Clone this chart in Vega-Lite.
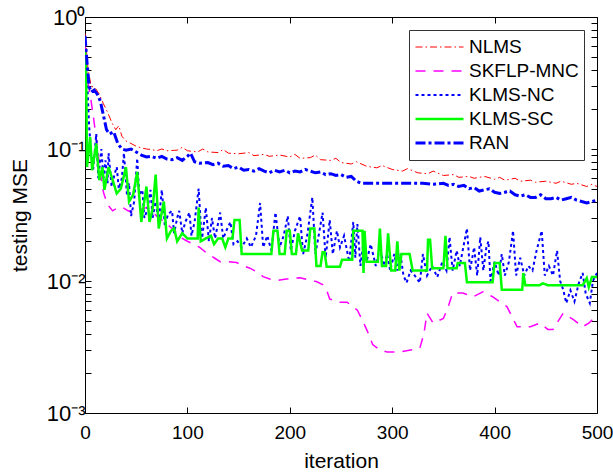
{
  "$schema": "https://vega.github.io/schema/vega-lite/v6.json",
  "width": 512,
  "height": 396,
  "autosize": {"type": "none"},
  "padding": {"left": 85, "top": 17, "right": 16, "bottom": 60},
  "background": "white",
  "config": {
    "view": {"stroke": "black", "strokeWidth": 1},
    "font": "Liberation Sans",
    "axis": {"grid": false, "domainColor": "black", "tickColor": "black", "labelColor": "black", "titleColor": "black", "labelFont": "Liberation Sans", "titleFont": "Liberation Sans", "titleFontWeight": "normal"}
  },
  "data": {"values": [
    {"s":"NLMS","i":0,"v":0.75},{"s":"NLMS","i":3,"v":0.4},{"s":"NLMS","i":6,"v":0.3},{"s":"NLMS","i":10,"v":0.29},{"s":"NLMS","i":14,"v":0.26},{"s":"NLMS","i":18,"v":0.22},{"s":"NLMS","i":22,"v":0.19},{"s":"NLMS","i":26,"v":0.16},{"s":"NLMS","i":30,"v":0.14},{"s":"NLMS","i":33,"v":0.15},{"s":"NLMS","i":36,"v":0.125},{"s":"NLMS","i":40,"v":0.115},{"s":"NLMS","i":45,"v":0.11},{"s":"NLMS","i":50,"v":0.105},{"s":"NLMS","i":55,"v":0.102},{"s":"NLMS","i":60,"v":0.1},{"s":"NLMS","i":65,"v":0.099},{"s":"NLMS","i":70,"v":0.097},{"s":"NLMS","i":75,"v":0.1},{"s":"NLMS","i":80,"v":0.097},{"s":"NLMS","i":90,"v":0.098},{"s":"NLMS","i":95,"v":0.103},{"s":"NLMS","i":100,"v":0.097},{"s":"NLMS","i":110,"v":0.095},{"s":"NLMS","i":115,"v":0.1},{"s":"NLMS","i":120,"v":0.095},{"s":"NLMS","i":130,"v":0.094},{"s":"NLMS","i":135,"v":0.099},{"s":"NLMS","i":140,"v":0.093},{"s":"NLMS","i":150,"v":0.092},{"s":"NLMS","i":160,"v":0.094},{"s":"NLMS","i":165,"v":0.089},{"s":"NLMS","i":175,"v":0.091},{"s":"NLMS","i":180,"v":0.088},{"s":"NLMS","i":190,"v":0.09},{"s":"NLMS","i":200,"v":0.087},{"s":"NLMS","i":205,"v":0.091},{"s":"NLMS","i":210,"v":0.085},{"s":"NLMS","i":220,"v":0.086},{"s":"NLMS","i":225,"v":0.09},{"s":"NLMS","i":230,"v":0.083},{"s":"NLMS","i":240,"v":0.082},{"s":"NLMS","i":245,"v":0.085},{"s":"NLMS","i":250,"v":0.079},{"s":"NLMS","i":260,"v":0.077},{"s":"NLMS","i":265,"v":0.08},{"s":"NLMS","i":275,"v":0.074},{"s":"NLMS","i":285,"v":0.072},{"s":"NLMS","i":290,"v":0.075},{"s":"NLMS","i":300,"v":0.07},{"s":"NLMS","i":310,"v":0.068},{"s":"NLMS","i":315,"v":0.071},{"s":"NLMS","i":325,"v":0.066},{"s":"NLMS","i":335,"v":0.065},{"s":"NLMS","i":340,"v":0.068},{"s":"NLMS","i":350,"v":0.063},{"s":"NLMS","i":360,"v":0.064},{"s":"NLMS","i":365,"v":0.061},{"s":"NLMS","i":375,"v":0.062},{"s":"NLMS","i":380,"v":0.06},{"s":"NLMS","i":390,"v":0.062},{"s":"NLMS","i":400,"v":0.059},{"s":"NLMS","i":405,"v":0.061},{"s":"NLMS","i":410,"v":0.058},{"s":"NLMS","i":420,"v":0.06},{"s":"NLMS","i":425,"v":0.057},{"s":"NLMS","i":435,"v":0.058},{"s":"NLMS","i":440,"v":0.056},{"s":"NLMS","i":450,"v":0.057},{"s":"NLMS","i":460,"v":0.055},{"s":"NLMS","i":465,"v":0.057},{"s":"NLMS","i":475,"v":0.054},{"s":"NLMS","i":480,"v":0.055},{"s":"NLMS","i":490,"v":0.052},{"s":"NLMS","i":495,"v":0.054},{"s":"NLMS","i":500,"v":0.052},

    {"s":"SKFLP-MNC","i":0,"v":0.6},{"s":"SKFLP-MNC","i":2,"v":0.35},{"s":"SKFLP-MNC","i":5,"v":0.26},{"s":"SKFLP-MNC","i":8,"v":0.18},{"s":"SKFLP-MNC","i":11,"v":0.12},{"s":"SKFLP-MNC","i":13,"v":0.09},{"s":"SKFLP-MNC","i":15,"v":0.066},{"s":"SKFLP-MNC","i":18,"v":0.047},{"s":"SKFLP-MNC","i":22,"v":0.038},{"s":"SKFLP-MNC","i":27,"v":0.034},{"s":"SKFLP-MNC","i":32,"v":0.036},{"s":"SKFLP-MNC","i":37,"v":0.036},{"s":"SKFLP-MNC","i":42,"v":0.034},{"s":"SKFLP-MNC","i":48,"v":0.033},{"s":"SKFLP-MNC","i":55,"v":0.035},{"s":"SKFLP-MNC","i":60,"v":0.036},{"s":"SKFLP-MNC","i":65,"v":0.034},{"s":"SKFLP-MNC","i":70,"v":0.031},{"s":"SKFLP-MNC","i":75,"v":0.029},{"s":"SKFLP-MNC","i":80,"v":0.027},{"s":"SKFLP-MNC","i":85,"v":0.025},{"s":"SKFLP-MNC","i":90,"v":0.023},{"s":"SKFLP-MNC","i":95,"v":0.021},{"s":"SKFLP-MNC","i":100,"v":0.02},{"s":"SKFLP-MNC","i":106,"v":0.019},{"s":"SKFLP-MNC","i":112,"v":0.018},{"s":"SKFLP-MNC","i":120,"v":0.016},{"s":"SKFLP-MNC","i":126,"v":0.015},{"s":"SKFLP-MNC","i":132,"v":0.014},{"s":"SKFLP-MNC","i":140,"v":0.014},{"s":"SKFLP-MNC","i":148,"v":0.0138},{"s":"SKFLP-MNC","i":155,"v":0.013},{"s":"SKFLP-MNC","i":161,"v":0.0125},{"s":"SKFLP-MNC","i":168,"v":0.0117},{"s":"SKFLP-MNC","i":174,"v":0.0108},{"s":"SKFLP-MNC","i":181,"v":0.0103},{"s":"SKFLP-MNC","i":187,"v":0.0101},{"s":"SKFLP-MNC","i":195,"v":0.0103},{"s":"SKFLP-MNC","i":203,"v":0.0105},{"s":"SKFLP-MNC","i":210,"v":0.0106},{"s":"SKFLP-MNC","i":220,"v":0.0101},{"s":"SKFLP-MNC","i":226,"v":0.0099},{"s":"SKFLP-MNC","i":232,"v":0.0094},{"s":"SKFLP-MNC","i":236,"v":0.0085},{"s":"SKFLP-MNC","i":239,"v":0.0073},{"s":"SKFLP-MNC","i":248,"v":0.0069},{"s":"SKFLP-MNC","i":256,"v":0.0069},{"s":"SKFLP-MNC","i":266,"v":0.006},{"s":"SKFLP-MNC","i":270,"v":0.0052},{"s":"SKFLP-MNC","i":275,"v":0.0043},{"s":"SKFLP-MNC","i":281,"v":0.0033},{"s":"SKFLP-MNC","i":288,"v":0.003},{"s":"SKFLP-MNC","i":295,"v":0.0029},{"s":"SKFLP-MNC","i":308,"v":0.0029},{"s":"SKFLP-MNC","i":318,"v":0.003},{"s":"SKFLP-MNC","i":327,"v":0.0031},{"s":"SKFLP-MNC","i":331,"v":0.004},{"s":"SKFLP-MNC","i":334,"v":0.0057},{"s":"SKFLP-MNC","i":340,"v":0.0048},{"s":"SKFLP-MNC","i":350,"v":0.0052},{"s":"SKFLP-MNC","i":355,"v":0.0065},{"s":"SKFLP-MNC","i":359,"v":0.0081},{"s":"SKFLP-MNC","i":369,"v":0.0081},{"s":"SKFLP-MNC","i":379,"v":0.0076},{"s":"SKFLP-MNC","i":389,"v":0.0083},{"s":"SKFLP-MNC","i":398,"v":0.0076},{"s":"SKFLP-MNC","i":412,"v":0.0064},{"s":"SKFLP-MNC","i":422,"v":0.0045},{"s":"SKFLP-MNC","i":435,"v":0.0045},{"s":"SKFLP-MNC","i":444,"v":0.0048},{"s":"SKFLP-MNC","i":452,"v":0.0043},{"s":"SKFLP-MNC","i":457,"v":0.0043},{"s":"SKFLP-MNC","i":467,"v":0.0057},{"s":"SKFLP-MNC","i":477,"v":0.0051},{"s":"SKFLP-MNC","i":486,"v":0.0045},{"s":"SKFLP-MNC","i":492,"v":0.0048},{"s":"SKFLP-MNC","i":500,"v":0.0055},

    {"s":"KLMS-NC","i":0,"v":0.7},{"s":"KLMS-NC","i":2,"v":0.35},{"s":"KLMS-NC","i":4,"v":0.15},{"s":"KLMS-NC","i":6,"v":0.093},{"s":"KLMS-NC","i":8,"v":0.07},{"s":"KLMS-NC","i":11,"v":0.13},{"s":"KLMS-NC","i":13,"v":0.06},{"s":"KLMS-NC","i":16,"v":0.1},{"s":"KLMS-NC","i":18,"v":0.06},{"s":"KLMS-NC","i":20,"v":0.082},{"s":"KLMS-NC","i":22,"v":0.055},{"s":"KLMS-NC","i":23,"v":0.093},{"s":"KLMS-NC","i":26,"v":0.052},{"s":"KLMS-NC","i":29,"v":0.065},{"s":"KLMS-NC","i":31,"v":0.073},{"s":"KLMS-NC","i":33,"v":0.05},{"s":"KLMS-NC","i":36,"v":0.06},{"s":"KLMS-NC","i":38,"v":0.093},{"s":"KLMS-NC","i":41,"v":0.045},{"s":"KLMS-NC","i":43,"v":0.055},{"s":"KLMS-NC","i":45,"v":0.031},{"s":"KLMS-NC","i":48,"v":0.04},{"s":"KLMS-NC","i":51,"v":0.085},{"s":"KLMS-NC","i":53,"v":0.045},{"s":"KLMS-NC","i":56,"v":0.049},{"s":"KLMS-NC","i":58,"v":0.03},{"s":"KLMS-NC","i":61,"v":0.035},{"s":"KLMS-NC","i":64,"v":0.049},{"s":"KLMS-NC","i":66,"v":0.03},{"s":"KLMS-NC","i":69,"v":0.04},{"s":"KLMS-NC","i":72,"v":0.028},{"s":"KLMS-NC","i":75,"v":0.049},{"s":"KLMS-NC","i":78,"v":0.026},{"s":"KLMS-NC","i":81,"v":0.032},{"s":"KLMS-NC","i":85,"v":0.034},{"s":"KLMS-NC","i":87,"v":0.023},{"s":"KLMS-NC","i":90,"v":0.03},{"s":"KLMS-NC","i":92,"v":0.034},{"s":"KLMS-NC","i":95,"v":0.023},{"s":"KLMS-NC","i":98,"v":0.028},{"s":"KLMS-NC","i":102,"v":0.033},{"s":"KLMS-NC","i":104,"v":0.022},{"s":"KLMS-NC","i":107,"v":0.028},{"s":"KLMS-NC","i":111,"v":0.05},{"s":"KLMS-NC","i":114,"v":0.02},{"s":"KLMS-NC","i":118,"v":0.036},{"s":"KLMS-NC","i":121,"v":0.02},{"s":"KLMS-NC","i":124,"v":0.03},{"s":"KLMS-NC","i":127,"v":0.021},{"s":"KLMS-NC","i":132,"v":0.033},{"s":"KLMS-NC","i":135,"v":0.021},{"s":"KLMS-NC","i":139,"v":0.025},{"s":"KLMS-NC","i":142,"v":0.028},{"s":"KLMS-NC","i":145,"v":0.019},{"s":"KLMS-NC","i":149,"v":0.02},{"s":"KLMS-NC","i":153,"v":0.018},{"s":"KLMS-NC","i":158,"v":0.021},{"s":"KLMS-NC","i":162,"v":0.018},{"s":"KLMS-NC","i":167,"v":0.022},{"s":"KLMS-NC","i":171,"v":0.039},{"s":"KLMS-NC","i":174,"v":0.018},{"s":"KLMS-NC","i":178,"v":0.022},{"s":"KLMS-NC","i":182,"v":0.017},{"s":"KLMS-NC","i":186,"v":0.033},{"s":"KLMS-NC","i":190,"v":0.018},{"s":"KLMS-NC","i":194,"v":0.022},{"s":"KLMS-NC","i":198,"v":0.031},{"s":"KLMS-NC","i":201,"v":0.017},{"s":"KLMS-NC","i":205,"v":0.024},{"s":"KLMS-NC","i":210,"v":0.031},{"s":"KLMS-NC","i":213,"v":0.016},{"s":"KLMS-NC","i":217,"v":0.022},{"s":"KLMS-NC","i":222,"v":0.043},{"s":"KLMS-NC","i":225,"v":0.016},{"s":"KLMS-NC","i":229,"v":0.024},{"s":"KLMS-NC","i":232,"v":0.033},{"s":"KLMS-NC","i":235,"v":0.015},{"s":"KLMS-NC","i":239,"v":0.029},{"s":"KLMS-NC","i":242,"v":0.016},{"s":"KLMS-NC","i":246,"v":0.024},{"s":"KLMS-NC","i":249,"v":0.018},{"s":"KLMS-NC","i":253,"v":0.022},{"s":"KLMS-NC","i":258,"v":0.014},{"s":"KLMS-NC","i":262,"v":0.028},{"s":"KLMS-NC","i":264,"v":0.015},{"s":"KLMS-NC","i":266,"v":0.027},{"s":"KLMS-NC","i":269,"v":0.013},{"s":"KLMS-NC","i":272,"v":0.02},{"s":"KLMS-NC","i":275,"v":0.014},{"s":"KLMS-NC","i":279,"v":0.019},{"s":"KLMS-NC","i":284,"v":0.013},{"s":"KLMS-NC","i":288,"v":0.018},{"s":"KLMS-NC","i":292,"v":0.013},{"s":"KLMS-NC","i":295,"v":0.016},{"s":"KLMS-NC","i":298,"v":0.012},{"s":"KLMS-NC","i":302,"v":0.016},{"s":"KLMS-NC","i":305,"v":0.012},{"s":"KLMS-NC","i":308,"v":0.016},{"s":"KLMS-NC","i":311,"v":0.011},{"s":"KLMS-NC","i":314,"v":0.0097},{"s":"KLMS-NC","i":318,"v":0.012},{"s":"KLMS-NC","i":322,"v":0.011},{"s":"KLMS-NC","i":327,"v":0.0097},{"s":"KLMS-NC","i":330,"v":0.016},{"s":"KLMS-NC","i":334,"v":0.011},{"s":"KLMS-NC","i":339,"v":0.013},{"s":"KLMS-NC","i":344,"v":0.0107},{"s":"KLMS-NC","i":349,"v":0.014},{"s":"KLMS-NC","i":353,"v":0.012},{"s":"KLMS-NC","i":356,"v":0.0215},{"s":"KLMS-NC","i":359,"v":0.012},{"s":"KLMS-NC","i":363,"v":0.017},{"s":"KLMS-NC","i":366,"v":0.013},{"s":"KLMS-NC","i":370,"v":0.019},{"s":"KLMS-NC","i":373,"v":0.025},{"s":"KLMS-NC","i":376,"v":0.012},{"s":"KLMS-NC","i":380,"v":0.018},{"s":"KLMS-NC","i":383,"v":0.011},{"s":"KLMS-NC","i":386,"v":0.0215},{"s":"KLMS-NC","i":389,"v":0.012},{"s":"KLMS-NC","i":392,"v":0.018},{"s":"KLMS-NC","i":394,"v":0.02},{"s":"KLMS-NC","i":396,"v":0.01},{"s":"KLMS-NC","i":400,"v":0.014},{"s":"KLMS-NC","i":404,"v":0.011},{"s":"KLMS-NC","i":407,"v":0.016},{"s":"KLMS-NC","i":410,"v":0.011},{"s":"KLMS-NC","i":414,"v":0.014},{"s":"KLMS-NC","i":418,"v":0.024},{"s":"KLMS-NC","i":421,"v":0.011},{"s":"KLMS-NC","i":425,"v":0.015},{"s":"KLMS-NC","i":429,"v":0.011},{"s":"KLMS-NC","i":433,"v":0.013},{"s":"KLMS-NC","i":437,"v":0.012},{"s":"KLMS-NC","i":441,"v":0.017},{"s":"KLMS-NC","i":446,"v":0.024},{"s":"KLMS-NC","i":449,"v":0.011},{"s":"KLMS-NC","i":453,"v":0.013},{"s":"KLMS-NC","i":457,"v":0.011},{"s":"KLMS-NC","i":461,"v":0.017},{"s":"KLMS-NC","i":464,"v":0.01},{"s":"KLMS-NC","i":467,"v":0.0086},{"s":"KLMS-NC","i":470,"v":0.0068},{"s":"KLMS-NC","i":474,"v":0.0085},{"s":"KLMS-NC","i":478,"v":0.007},{"s":"KLMS-NC","i":482,"v":0.0095},{"s":"KLMS-NC","i":486,"v":0.0115},{"s":"KLMS-NC","i":489,"v":0.008},{"s":"KLMS-NC","i":493,"v":0.0068},{"s":"KLMS-NC","i":496,"v":0.01},{"s":"KLMS-NC","i":500,"v":0.0115},

    {"s":"KLMS-SC","i":0,"v":0.55},{"s":"KLMS-SC","i":1,"v":0.42},{"s":"KLMS-SC","i":2,"v":0.073},{"s":"KLMS-SC","i":5,"v":0.123},{"s":"KLMS-SC","i":7,"v":0.069},{"s":"KLMS-SC","i":11,"v":0.11},{"s":"KLMS-SC","i":14,"v":0.058},{"s":"KLMS-SC","i":17,"v":0.073},{"s":"KLMS-SC","i":19,"v":0.049},{"s":"KLMS-SC","i":23,"v":0.073},{"s":"KLMS-SC","i":28,"v":0.055},{"s":"KLMS-SC","i":31,"v":0.046},{"s":"KLMS-SC","i":35,"v":0.05},{"s":"KLMS-SC","i":40,"v":0.073},{"s":"KLMS-SC","i":43,"v":0.04},{"s":"KLMS-SC","i":47,"v":0.045},{"s":"KLMS-SC","i":51,"v":0.067},{"s":"KLMS-SC","i":55,"v":0.028},{"s":"KLMS-SC","i":60,"v":0.052},{"s":"KLMS-SC","i":63,"v":0.028},{"s":"KLMS-SC","i":66,"v":0.035},{"s":"KLMS-SC","i":69,"v":0.064},{"s":"KLMS-SC","i":72,"v":0.025},{"s":"KLMS-SC","i":77,"v":0.04},{"s":"KLMS-SC","i":80,"v":0.021},{"s":"KLMS-SC","i":84,"v":0.024},{"s":"KLMS-SC","i":87,"v":0.025},{"s":"KLMS-SC","i":90,"v":0.02},{"s":"KLMS-SC","i":95,"v":0.023},{"s":"KLMS-SC","i":100,"v":0.021},{"s":"KLMS-SC","i":110,"v":0.021},{"s":"KLMS-SC","i":111,"v":0.036},{"s":"KLMS-SC","i":113,"v":0.02},{"s":"KLMS-SC","i":118,"v":0.021},{"s":"KLMS-SC","i":123,"v":0.022},{"s":"KLMS-SC","i":126,"v":0.019},{"s":"KLMS-SC","i":130,"v":0.021},{"s":"KLMS-SC","i":134,"v":0.021},{"s":"KLMS-SC","i":137,"v":0.018},{"s":"KLMS-SC","i":140,"v":0.021},{"s":"KLMS-SC","i":144,"v":0.021},{"s":"KLMS-SC","i":146,"v":0.029},{"s":"KLMS-SC","i":151,"v":0.029},{"s":"KLMS-SC","i":153,"v":0.016},{"s":"KLMS-SC","i":182,"v":0.016},{"s":"KLMS-SC","i":184,"v":0.024},{"s":"KLMS-SC","i":188,"v":0.024},{"s":"KLMS-SC","i":190,"v":0.016},{"s":"KLMS-SC","i":195,"v":0.016},{"s":"KLMS-SC","i":197,"v":0.024},{"s":"KLMS-SC","i":200,"v":0.024},{"s":"KLMS-SC","i":202,"v":0.016},{"s":"KLMS-SC","i":206,"v":0.016},{"s":"KLMS-SC","i":208,"v":0.023},{"s":"KLMS-SC","i":212,"v":0.017},{"s":"KLMS-SC","i":218,"v":0.017},{"s":"KLMS-SC","i":220,"v":0.025},{"s":"KLMS-SC","i":224,"v":0.025},{"s":"KLMS-SC","i":226,"v":0.013},{"s":"KLMS-SC","i":230,"v":0.013},{"s":"KLMS-SC","i":232,"v":0.0165},{"s":"KLMS-SC","i":234,"v":0.0165},{"s":"KLMS-SC","i":236,"v":0.0128},{"s":"KLMS-SC","i":249,"v":0.0128},{"s":"KLMS-SC","i":251,"v":0.0145},{"s":"KLMS-SC","i":261,"v":0.0145},{"s":"KLMS-SC","i":262,"v":0.024},{"s":"KLMS-SC","i":271,"v":0.024},{"s":"KLMS-SC","i":272,"v":0.0115},{"s":"KLMS-SC","i":273,"v":0.024},{"s":"KLMS-SC","i":275,"v":0.014},{"s":"KLMS-SC","i":286,"v":0.014},{"s":"KLMS-SC","i":288,"v":0.025},{"s":"KLMS-SC","i":290,"v":0.013},{"s":"KLMS-SC","i":294,"v":0.013},{"s":"KLMS-SC","i":296,"v":0.023},{"s":"KLMS-SC","i":299,"v":0.012},{"s":"KLMS-SC","i":303,"v":0.012},{"s":"KLMS-SC","i":305,"v":0.02},{"s":"KLMS-SC","i":307,"v":0.012},{"s":"KLMS-SC","i":309,"v":0.016},{"s":"KLMS-SC","i":317,"v":0.016},{"s":"KLMS-SC","i":320,"v":0.012},{"s":"KLMS-SC","i":334,"v":0.012},{"s":"KLMS-SC","i":335,"v":0.0205},{"s":"KLMS-SC","i":337,"v":0.0205},{"s":"KLMS-SC","i":339,"v":0.0125},{"s":"KLMS-SC","i":350,"v":0.0125},{"s":"KLMS-SC","i":352,"v":0.022},{"s":"KLMS-SC","i":354,"v":0.0125},{"s":"KLMS-SC","i":363,"v":0.0125},{"s":"KLMS-SC","i":364,"v":0.0137},{"s":"KLMS-SC","i":371,"v":0.0137},{"s":"KLMS-SC","i":373,"v":0.0098},{"s":"KLMS-SC","i":398,"v":0.0098},{"s":"KLMS-SC","i":400,"v":0.0137},{"s":"KLMS-SC","i":405,"v":0.0137},{"s":"KLMS-SC","i":407,"v":0.0086},{"s":"KLMS-SC","i":427,"v":0.0086},{"s":"KLMS-SC","i":428,"v":0.0115},{"s":"KLMS-SC","i":430,"v":0.0093},{"s":"KLMS-SC","i":444,"v":0.0093},{"s":"KLMS-SC","i":447,"v":0.0096},{"s":"KLMS-SC","i":452,"v":0.0093},{"s":"KLMS-SC","i":486,"v":0.0093},{"s":"KLMS-SC","i":490,"v":0.0105},{"s":"KLMS-SC","i":492,"v":0.009},{"s":"KLMS-SC","i":495,"v":0.0107},{"s":"KLMS-SC","i":500,"v":0.0107},

    {"s":"RAN","i":0,"v":0.72},{"s":"RAN","i":2,"v":0.45},{"s":"RAN","i":4,"v":0.3},{"s":"RAN","i":6,"v":0.27},{"s":"RAN","i":9,"v":0.28},{"s":"RAN","i":12,"v":0.26},{"s":"RAN","i":15,"v":0.23},{"s":"RAN","i":18,"v":0.18},{"s":"RAN","i":21,"v":0.14},{"s":"RAN","i":24,"v":0.13},{"s":"RAN","i":28,"v":0.135},{"s":"RAN","i":32,"v":0.11},{"s":"RAN","i":36,"v":0.1},{"s":"RAN","i":40,"v":0.098},{"s":"RAN","i":45,"v":0.1},{"s":"RAN","i":50,"v":0.095},{"s":"RAN","i":55,"v":0.09},{"s":"RAN","i":60,"v":0.087},{"s":"RAN","i":65,"v":0.088},{"s":"RAN","i":70,"v":0.085},{"s":"RAN","i":75,"v":0.088},{"s":"RAN","i":80,"v":0.084},{"s":"RAN","i":85,"v":0.083},{"s":"RAN","i":90,"v":0.086},{"s":"RAN","i":95,"v":0.082},{"s":"RAN","i":100,"v":0.088},{"s":"RAN","i":103,"v":0.093},{"s":"RAN","i":107,"v":0.08},{"s":"RAN","i":112,"v":0.078},{"s":"RAN","i":120,"v":0.079},{"s":"RAN","i":125,"v":0.076},{"s":"RAN","i":130,"v":0.078},{"s":"RAN","i":135,"v":0.074},{"s":"RAN","i":140,"v":0.075},{"s":"RAN","i":145,"v":0.071},{"s":"RAN","i":150,"v":0.073},{"s":"RAN","i":155,"v":0.069},{"s":"RAN","i":160,"v":0.07},{"s":"RAN","i":165,"v":0.068},{"s":"RAN","i":170,"v":0.071},{"s":"RAN","i":175,"v":0.068},{"s":"RAN","i":180,"v":0.066},{"s":"RAN","i":185,"v":0.069},{"s":"RAN","i":190,"v":0.067},{"s":"RAN","i":195,"v":0.069},{"s":"RAN","i":200,"v":0.066},{"s":"RAN","i":205,"v":0.068},{"s":"RAN","i":210,"v":0.067},{"s":"RAN","i":215,"v":0.07},{"s":"RAN","i":220,"v":0.068},{"s":"RAN","i":225,"v":0.066},{"s":"RAN","i":230,"v":0.067},{"s":"RAN","i":235,"v":0.064},{"s":"RAN","i":240,"v":0.065},{"s":"RAN","i":245,"v":0.063},{"s":"RAN","i":250,"v":0.064},{"s":"RAN","i":255,"v":0.061},{"s":"RAN","i":260,"v":0.062},{"s":"RAN","i":265,"v":0.057},{"s":"RAN","i":270,"v":0.055},{"s":"RAN","i":290,"v":0.055},{"s":"RAN","i":310,"v":0.055},{"s":"RAN","i":330,"v":0.055},{"s":"RAN","i":340,"v":0.054},{"s":"RAN","i":350,"v":0.055},{"s":"RAN","i":355,"v":0.053},{"s":"RAN","i":360,"v":0.054},{"s":"RAN","i":365,"v":0.052},{"s":"RAN","i":370,"v":0.053},{"s":"RAN","i":375,"v":0.05},{"s":"RAN","i":380,"v":0.051},{"s":"RAN","i":385,"v":0.048},{"s":"RAN","i":390,"v":0.049},{"s":"RAN","i":395,"v":0.05},{"s":"RAN","i":400,"v":0.047},{"s":"RAN","i":405,"v":0.046},{"s":"RAN","i":410,"v":0.047},{"s":"RAN","i":415,"v":0.048},{"s":"RAN","i":420,"v":0.045},{"s":"RAN","i":425,"v":0.044},{"s":"RAN","i":430,"v":0.045},{"s":"RAN","i":435,"v":0.043},{"s":"RAN","i":440,"v":0.043},{"s":"RAN","i":445,"v":0.045},{"s":"RAN","i":450,"v":0.042},{"s":"RAN","i":455,"v":0.042},{"s":"RAN","i":460,"v":0.043},{"s":"RAN","i":465,"v":0.041},{"s":"RAN","i":470,"v":0.042},{"s":"RAN","i":475,"v":0.043},{"s":"RAN","i":480,"v":0.041},{"s":"RAN","i":485,"v":0.04},{"s":"RAN","i":490,"v":0.039},{"s":"RAN","i":495,"v":0.04},{"s":"RAN","i":500,"v":0.041}
  ]},
  "layer": [
    {
      "mark": {"type": "line", "strokeCap": "butt", "strokeJoin": "miter", "clip": true},
      "encoding": {
        "x": {"field": "i", "type": "quantitative", "scale": {"domain": [0, 500], "nice": false, "zero": false},
          "axis": {"orient": "bottom", "title": "iteration", "values": [0,100,200,300,400,500], "tickSize": -6, "labelFontSize": 19, "titleFontSize": 21, "labelPadding": 16, "titlePadding": 8, "labelFlush": false, "labelOverlap": false, "domain": false}},
        "y": {"field": "v", "type": "quantitative", "scale": {"type": "log", "domain": [0.001, 1], "nice": false},
          "axis": {"orient": "left", "title": "testing MSE", "values": [0.001,0.002,0.003,0.004,0.005,0.006,0.007,0.008,0.009,0.01,0.02,0.03,0.04,0.05,0.06,0.07,0.08,0.09,0.1,0.2,0.3,0.4,0.5,0.6,0.7,0.8,0.9,1],
            "labelExpr": "datum.value == 1 ? '10⁰' : datum.value == 0.1 ? '10⁻¹' : datum.value == 0.01 ? '10⁻²' : datum.value == 0.001 ? '10⁻³' : ''",
            "tickSize": -6, "labelFontSize": 22, "titleFontSize": 21, "labelPadding": 6, "titlePadding": 16, "labelOverlap": false, "labelFlush": false, "domain": false}},
        "color": {"field": "s", "type": "nominal",
          "scale": {"domain": ["NLMS","SKFLP-MNC","KLMS-NC","KLMS-SC","RAN"], "range": ["#ff0000","#ff00ff","#0000ff","#00ff00","#0000ff"]},
          "legend": {"title": null, "orient": "none", "legendX": 324, "legendY": 13, "strokeColor": "#333333", "fillColor": "white", "padding": 5, "labelFontSize": 19, "labelFont": "Liberation Sans", "labelColor": "black", "symbolSize": 2304, "symbolType": "stroke", "rowPadding": 0, "clipHeight": 24, "labelOffset": 4, "symbolOffset": 0}},
        "strokeDash": {"field": "s", "type": "nominal",
          "scale": {"domain": ["NLMS","SKFLP-MNC","KLMS-NC","KLMS-SC","RAN"], "range": [[7,3,1.5,3],[10,8],[3,3],[1,0],[10,3,3,3]]},
          "legend": {"title": null}},
        "strokeWidth": {"field": "s", "type": "nominal",
          "scale": {"domain": ["NLMS","SKFLP-MNC","KLMS-NC","KLMS-SC","RAN"], "range": [1, 3, 3.5, 4, 4]},
          "legend": {"title": null}}
      }
    },
    {
      "mark": {"type": "line", "opacity": 0},
      "encoding": {
        "x": {"field": "i", "type": "quantitative", "axis": {"orient": "top", "title": null, "labels": false, "values": [0,100,200,300,400,500], "tickSize": -6, "domain": false}},
        "y": {"field": "v", "type": "quantitative", "axis": {"orient": "right", "title": null, "labels": false, "values": [0.001,0.002,0.003,0.004,0.005,0.006,0.007,0.008,0.009,0.01,0.02,0.03,0.04,0.05,0.06,0.07,0.08,0.09,0.1,0.2,0.3,0.4,0.5,0.6,0.7,0.8,0.9,1], "tickSize": -6, "domain": false}},
        "detail": {"field": "s"}
      }
    }
  ],
  "resolve": {"axis": {"x": "independent", "y": "independent"}}
}
